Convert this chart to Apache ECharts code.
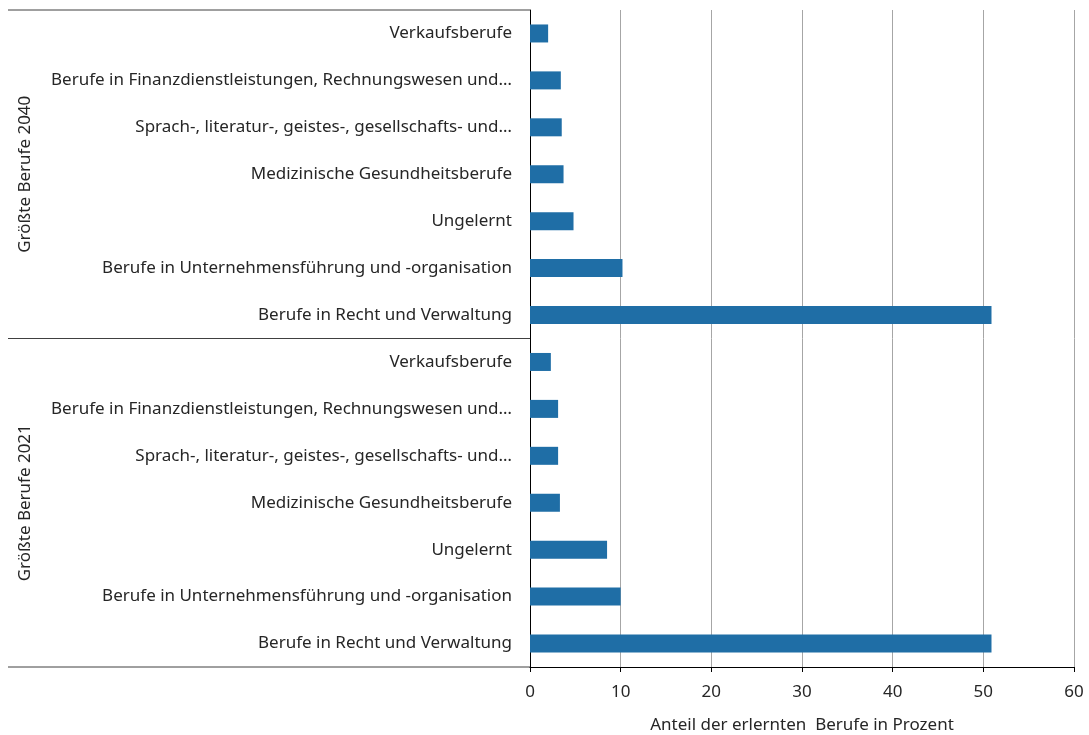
<!DOCTYPE html>
<html>
<head>
<meta charset="utf-8">
<script src="https://cdn.jsdelivr.net/npm/echarts@6/dist/echarts.min.js"></script>
<style>
html,body{margin:0;padding:0;background:#fff;}
#chart{width:1089px;height:735px;}
</style>
</head>
<body>
<div id="chart"></div>
<script>
// Categories listed bottom-to-top (ECharts category y axis starts at bottom)
const categories = [
  'Berufe in Recht und Verwaltung',
  'Berufe in Unternehmensführung und -organisation',
  'Ungelernt',
  'Medizinische Gesundheitsberufe',
  'Sprach-, literatur-, geistes-, gesellschafts- und…',
  'Berufe in Finanzdienstleistungen, Rechnungswesen und…',
  'Verkaufsberufe'
];
const values2040 = [50.9, 10.2, 4.8, 3.7, 3.5, 3.4, 2.0];
const values2021 = [50.9, 10.0, 8.5, 3.3, 3.1, 3.1, 2.3];
const groupLabels = ['Größte Berufe 2040', 'Größte Berufe 2021'];
const xTicks = [0, 10, 20, 30, 40, 50, 60];
const xAxisName = 'Anteil der erlernten  Berufe in Prozent';

const FONT = 'Noto Sans';
const FS = 17;
const TXT = '#262626';
const BAR = '#1f6ea6';
const L = 530, R = 15, TOP = 10, BOTTOM_Y = 667;
const H = (BOTTOM_Y - TOP) / 2;

const chart = echarts.init(document.getElementById('chart'), null, {renderer: 'canvas'});

function xAxisCfg(gi, showLabels) {
  return {
    gridIndex: gi, type: 'value', min: xTicks[0], max: xTicks[xTicks.length - 1], interval: 10,
    axisLine: {show: showLabels, lineStyle: {color: '#000', width: 1}},
    axisTick: {show: showLabels, length: 5, inside: false, lineStyle: {color: '#000'}},
    axisLabel: {show: showLabels, fontFamily: FONT, fontSize: FS, color: TXT, margin: 17},
    splitLine: {show: true, lineStyle: {color: '#a6a6a6', width: 1}},
    name: showLabels ? xAxisName : '',
    nameLocation: 'middle', nameGap: 50,
    nameTextStyle: {fontFamily: FONT, fontSize: FS, color: TXT}
  };
}
function yAxisCfg(gi) {
  return {
    gridIndex: gi, type: 'category', data: categories,
    axisLine: {show: true, lineStyle: {color: '#000', width: 1}},
    axisTick: {show: false},
    axisLabel: {fontFamily: FONT, fontSize: FS, color: TXT, margin: 18, interval: 0}
  };
}

const option = {
  animation: false,
  backgroundColor: '#fff',
  grid: [
    {left: L, right: R, top: TOP, height: H, containLabel: false, outerBoundsMode: 'none'},
    {left: L, right: R, top: TOP + H, height: H, containLabel: false, outerBoundsMode: 'none'}
  ],
  xAxis: [xAxisCfg(0, false), xAxisCfg(1, true)],
  yAxis: [yAxisCfg(0), yAxisCfg(1)],
  series: [
    {type: 'bar', xAxisIndex: 0, yAxisIndex: 0, data: values2040, barWidth: 18,
     itemStyle: {color: BAR}},
    {type: 'bar', xAxisIndex: 1, yAxisIndex: 1, data: values2021, barWidth: 18,
     itemStyle: {color: BAR}}
  ],
  graphic: [
    {type: 'line', shape: {x1: 8, y1: TOP, x2: L, y2: TOP}, style: {stroke: '#404040', lineWidth: 1}},
    {type: 'line', shape: {x1: 8, y1: TOP + H, x2: L, y2: TOP + H}, style: {stroke: '#404040', lineWidth: 1}},
    {type: 'line', shape: {x1: 8, y1: BOTTOM_Y, x2: L, y2: BOTTOM_Y}, style: {stroke: '#404040', lineWidth: 1}},
    {type: 'text', x: 25, y: TOP + H / 2, rotation: Math.PI / 2,
     style: {text: groupLabels[0], fontFamily: FONT, fontSize: FS, fill: TXT, align: 'center', verticalAlign: 'middle'}},
    {type: 'text', x: 25, y: TOP + H * 1.5, rotation: Math.PI / 2,
     style: {text: groupLabels[1], fontFamily: FONT, fontSize: FS, fill: TXT, align: 'center', verticalAlign: 'middle'}}
  ]
};
chart.setOption(option);
</script>
</body>
</html>
